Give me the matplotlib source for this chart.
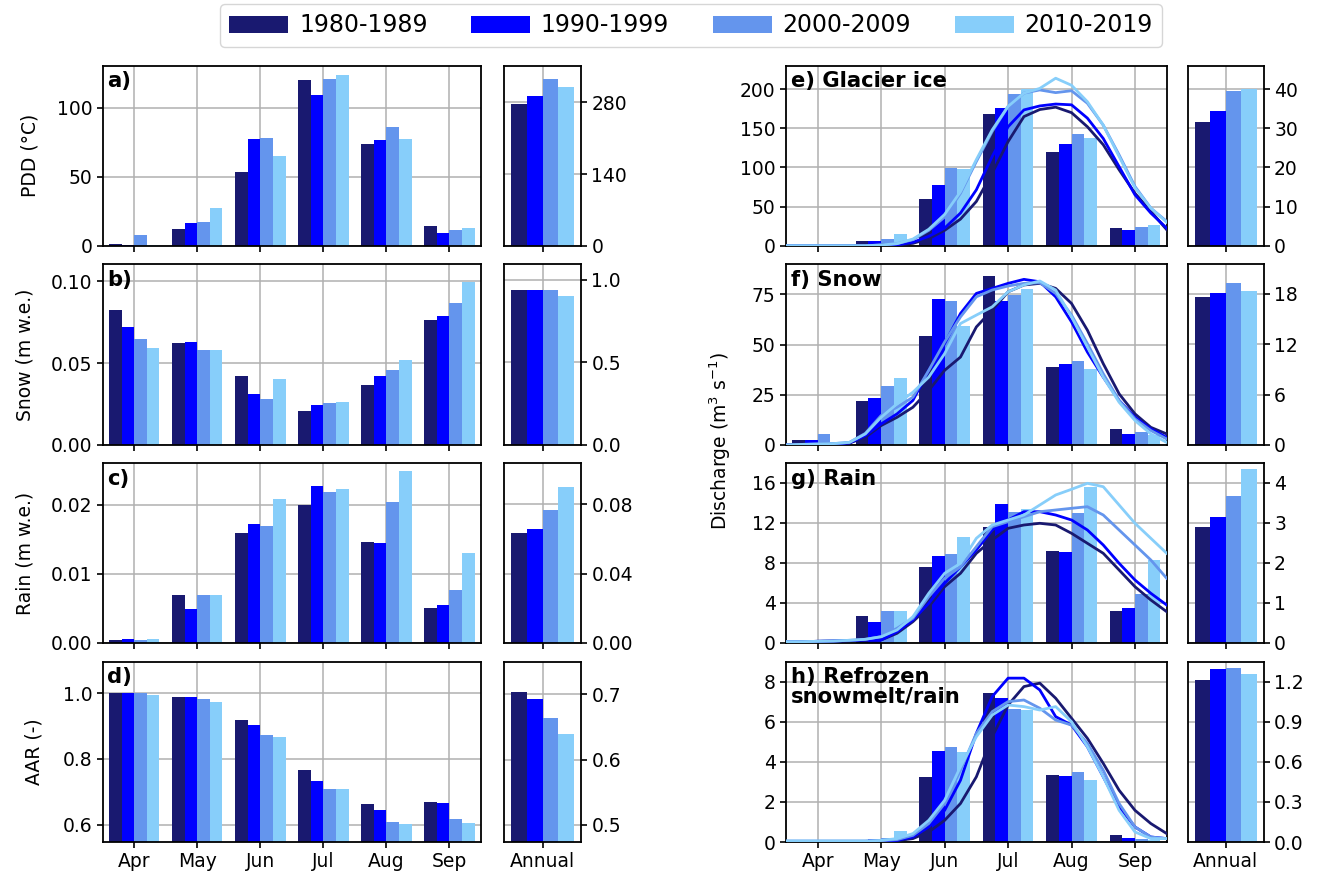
import numpy as np
import matplotlib
matplotlib.use("Agg")
import matplotlib.pyplot as plt
from matplotlib.patches import Patch

# ---------------- data ----------------
months = ["Apr", "May", "Jun", "Jul", "Aug", "Sep"]
decades = ["1980-1989", "1990-1999", "2000-2009", "2010-2019"]
colors = ["#191970", "#0000ff", "#6495ed", "#87cefa"]

# monthly bars, one list per decade
pdd = [[1.4, 12.1, 53.4, 120.0, 73.7, 14.2],
       [0.5, 16.4, 77.3, 109.2, 76.6, 9.2],
       [7.7, 17.1, 78.0, 120.8, 86.0, 11.4],
       [0.5, 27.3, 65.0, 123.6, 77.3, 12.8]]
snow = [[0.0823, 0.0622, 0.0421, 0.0207, 0.0366, 0.0762],
        [0.0720, 0.0628, 0.0311, 0.0244, 0.0421, 0.0787],
        [0.0646, 0.0579, 0.0281, 0.0256, 0.0457, 0.0866],
        [0.0592, 0.0579, 0.0403, 0.0262, 0.0518, 0.0994]]
rain = [[0.00043, 0.00696, 0.01594, 0.0200, 0.01464, 0.00507],
        [0.00058, 0.00493, 0.01725, 0.02275, 0.01449, 0.00551],
        [0.00043, 0.00696, 0.01696, 0.02188, 0.02043, 0.00768],
        [0.00058, 0.00696, 0.02087, 0.02232, 0.02493, 0.01304]]
aar = [[1.000, 0.988, 0.9175, 0.765, 0.664, 0.670],
       [1.000, 0.988, 0.902, 0.734, 0.643, 0.667],
       [1.000, 0.982, 0.872, 0.710, 0.609, 0.618],
       [0.996, 0.9725, 0.866, 0.707, 0.603, 0.606]]

q_ice = [[0.3, 6.4, 60.0, 168.4, 119.9, 23.0],
         [0.3, 6.4, 77.8, 176.0, 130.1, 20.4],
         [0.3, 8.9, 99.5, 193.9, 142.9, 24.2],
         [0.3, 15.3, 98.2, 199.8, 137.8, 26.8]]
q_snow = [[2.7, 21.7, 54.2, 84.2, 38.7, 8.2],
          [2.7, 23.2, 72.7, 71.7, 40.2, 5.7],
          [5.7, 29.2, 71.7, 74.7, 41.7, 6.7],
          [1.0, 33.2, 59.2, 77.7, 37.7, 5.0]]
q_rain = [[0.1, 2.7, 7.6, 11.6, 9.2, 3.2],
          [0.27, 2.1, 8.7, 13.9, 9.1, 3.5],
          [0.13, 3.2, 8.9, 13.1, 13.0, 4.9],
          [0.13, 3.2, 10.6, 13.4, 15.6, 8.3]]
q_refr = [[0.05, 0.12, 3.23, 7.43, 3.33, 0.33],
          [0.05, 0.17, 4.53, 7.18, 3.28, 0.18],
          [0.05, 0.22, 4.73, 6.63, 3.48, 0.13],
          [0.05, 0.53, 4.48, 6.58, 3.08, 0.08]]

# annual bars
ann_pdd = [277.3, 293.0, 325.5, 310.5]
ann_snow = [0.939, 0.939, 0.939, 0.901]
ann_rain = [0.0635, 0.0658, 0.0767, 0.0900]
ann_aar = [0.703, 0.6924, 0.6635, 0.639]
ann_ice = [31.6, 34.4, 39.5, 40.0]
ann_qsnow = [17.57, 18.05, 19.25, 18.29]
ann_qrain = [2.91, 3.16, 3.68, 4.36]
ann_refr = [1.2125, 1.295, 1.3025, 1.2575]

# smoothed daily discharge curves, read every quarter month (Apr 1 .. Sep 30)
line_x = np.arange(-0.5, 5.51, 0.25)
l_ice = [
    [0, 0, 0, 0, 0, 0, 0.9, 0.9, 3.0, 9.0, 19.6, 34.0, 56.5, 92.7, 133, 165, 174, 177, 170, 152, 129, 97, 67, 44, 20.4],
    [0, 0, 0, 0, 0, 0, 0.9, 1.3, 4.3, 12.0, 22.5, 41.7, 71.4, 114, 152, 173.5, 178.6, 181, 180, 163, 137, 101, 65, 41.7, 22.5],
    [0, 0, 0, 0, 0, 0, 0.9, 2.6, 7.7, 19.6, 36.6, 67, 107.6, 146, 178, 195, 199, 195.6, 198, 182, 154, 116, 75.7, 48, 31],
    [0, 0, 0, 0, 0, 0, 0.9, 2.6, 8.5, 21, 40, 69, 110, 148, 178, 195, 201, 214, 205, 184, 154, 114, 74, 48, 30]]
l_snow = [
    [0, 0.2, 0.3, 0.5, 1.0, 3.8, 9.7, 13.8, 18.8, 27.2, 37.2, 43.8, 58.8, 67.2, 76.3, 79.7, 80.5, 78, 70.5, 57.2, 40.5, 25.5, 15.5, 8.8, 5.5],
    [0, 0.2, 0.3, 0.5, 1.0, 4.7, 10.5, 15.5, 22.2, 37.2, 50.5, 65.5, 75.5, 78, 80.5, 82.5, 81.3, 73.8, 61.3, 46.3, 33.8, 22.2, 13.8, 8.0, 3.8],
    [0, 0.3, 0.5, 0.7, 1.3, 5.8, 14.7, 18.8, 23.8, 37.2, 51.3, 63.8, 73.8, 77.2, 79.2, 80.5, 80.8, 75.5, 64.7, 50.5, 35.5, 22.2, 13.0, 7.2, 3.0],
    [0, 0.3, 0.5, 0.7, 1.3, 5.5, 13.8, 20.5, 26.3, 33.8, 45.5, 60.5, 64.7, 68.8, 76.3, 79.7, 81.7, 77.2, 63.8, 48.8, 33.8, 21.3, 12.2, 5.5, 1.3]]
l_rain = [
    [0.13, 0.13, 0.17, 0.2, 0.23, 0.3, 0.3, 0.97, 2.13, 3.63, 5.63, 6.97, 8.97, 10.3, 11.47, 11.8, 11.97, 11.8, 10.97, 9.97, 8.97, 7.3, 5.63, 4.3, 3.13],
    [0.13, 0.13, 0.17, 0.2, 0.23, 0.3, 0.3, 1.13, 2.3, 3.97, 5.97, 7.63, 9.3, 11.3, 12.3, 13.13, 13.13, 12.8, 12.3, 11.3, 9.8, 7.97, 6.3, 4.97, 3.8],
    [0.13, 0.13, 0.17, 0.2, 0.27, 0.37, 0.63, 1.47, 2.47, 4.63, 6.47, 7.63, 9.63, 11.63, 12.13, 12.63, 13.13, 13.3, 13.47, 13.63, 12.8, 11.3, 9.8, 8.3, 6.47],
    [0.13, 0.13, 0.17, 0.2, 0.27, 0.37, 0.63, 1.3, 2.63, 4.97, 6.97, 7.97, 10.47, 11.8, 12.3, 12.8, 13.8, 14.8, 15.37, 15.97, 15.63, 13.8, 11.97, 10.47, 8.97]]
l_refr = [
    [0.03, 0.03, 0.03, 0.03, 0.03, 0.03, 0.05, 0.07, 0.17, 0.5, 1.08, 1.92, 3.25, 5.25, 6.83, 7.75, 7.92, 7.17, 6.17, 5.17, 3.92, 2.58, 1.58, 0.92, 0.42],
    [0.03, 0.03, 0.03, 0.03, 0.03, 0.03, 0.05, 0.08, 0.25, 0.75, 1.58, 3.08, 5.42, 7.25, 8.17, 8.17, 7.58, 6.25, 5.83, 4.75, 3.25, 1.75, 0.75, 0.25, 0.17],
    [0.05, 0.05, 0.05, 0.05, 0.05, 0.05, 0.07, 0.12, 0.33, 0.92, 1.92, 3.58, 5.42, 6.5, 7.0, 7.08, 6.67, 6.08, 5.83, 4.92, 3.58, 1.92, 0.75, 0.25, 0.17],
    [0.05, 0.05, 0.05, 0.05, 0.05, 0.05, 0.08, 0.17, 0.42, 1.08, 2.08, 3.75, 5.25, 6.33, 6.83, 6.75, 6.58, 6.75, 6.0, 4.75, 3.25, 1.58, 0.5, 0.17, 0.17]]

# ---------------- figure ----------------
FS = 13.5
LFS = 15.2
plt.rcParams["font.family"] = ["DejaVu Sans"]
plt.rcParams["font.size"] = FS
fig = plt.figure(figsize=(13.2, 8.82), dpi=100)

W, H = 1320.0, 882.0
cols = {"lm": (102.7, 481.0), "la": (504.3, 581.0), "rm": (786.0, 1166.7), "ra": (1187.7, 1263.7)}
rows = [(65.7, 245.7), (264.3, 445.0), (463.3, 643.0), (661.5, 842.0)]


def make_ax(col, r):
    x0, x1 = cols[col]
    y0, y1 = rows[r]
    return fig.add_axes([x0 / W, 1 - y1 / H, (x1 - x0) / W, (y1 - y0) / H])


def style(ax):
    ax.set_axisbelow(True)
    ax.grid(True, color="#b0b0b0", linewidth=1.1)
    for s in ax.spines.values():
        s.set_linewidth(1.3)
    ax.tick_params(width=1.2, length=4, labelsize=FS)


offsets = [-0.3, -0.1, 0.1, 0.3]
xm = np.arange(len(months))


def monthly(ax, data, ylim, yticks, fmt, label, ylabel=None, bottom=False, lines=None, pad=13):
    style(ax)
    for i in range(4):
        ax.bar(xm + offsets[i], data[i], width=0.2, color=colors[i], zorder=2)
    if lines is not None:
        for i in range(4):
            ax.plot(line_x, lines[i], color=colors[i], linewidth=2.0, zorder=3)
    ax.set_xlim(-0.5, 5.5)
    ax.set_ylim(*ylim)
    ax.set_xticks(xm)
    ax.set_xticklabels(months if bottom else [])
    ax.set_yticks(yticks)
    ax.set_yticklabels([fmt.format(v) for v in yticks])
    if ylabel:
        ax.set_ylabel(ylabel, fontsize=FS, labelpad=pad)
    ax.text(0.012, 0.97, label, transform=ax.transAxes, ha="left", va="top",
            fontweight="bold", fontsize=LFS, linespacing=1.0, zorder=5)


def annual(ax, vals, ylim, yticks, fmt, bottom=False):
    style(ax)
    for i in range(4):
        ax.bar(offsets[i], vals[i], width=0.2, color=colors[i], zorder=2)
    ax.set_xlim(-0.49, 0.49)
    ax.set_ylim(*ylim)
    ax.set_xticks([0])
    ax.set_xticklabels(["Annual"] if bottom else [])
    ax.yaxis.tick_right()
    ax.set_yticks(yticks)
    ax.set_yticklabels([fmt.format(v) for v in yticks])


# left column
monthly(make_ax("lm", 0), pdd, (0, 130.4), [0, 50, 100], "{:.0f}", "a)", "PDD (°C)", pad=12)
monthly(make_ax("lm", 1), snow, (0, 0.1102), [0, 0.05, 0.10], "{:.2f}", "b)", "Snow (m w.e.)", pad=12)
monthly(make_ax("lm", 2), rain, (0, 0.02604), [0, 0.01, 0.02], "{:.2f}", "c)", "Rain (m w.e.)", pad=12)
monthly(make_ax("lm", 3), aar, (0.547, 1.097), [0.6, 0.8, 1.0], "{:.1f}", "d)", "AAR (-)", bottom=True, pad=14)

annual(make_ax("la", 0), ann_pdd, (0, 351.5), [0, 140, 280], "{:.0f}")
annual(make_ax("la", 1), ann_snow, (0, 1.095), [0, 0.5, 1.0], "{:.1f}")
annual(make_ax("la", 2), ann_rain, (0, 0.1036), [0, 0.04, 0.08], "{:.2f}")
annual(make_ax("la", 3), ann_aar, (0.474, 0.75), [0.5, 0.6, 0.7], "{:.1f}", bottom=True)

# right column
monthly(make_ax("rm", 0), q_ice, (0, 230), [0, 50, 100, 150, 200], "{:.0f}", "e) Glacier ice", lines=l_ice)
monthly(make_ax("rm", 1), q_snow, (0, 90), [0, 25, 50, 75], "{:.0f}", "f) Snow", lines=l_snow)
monthly(make_ax("rm", 2), q_rain, (0, 17.97), [0, 4, 8, 12, 16], "{:.0f}", "g) Rain", lines=l_rain)
monthly(make_ax("rm", 3), q_refr, (0, 9.0), [0, 2, 4, 6, 8], "{:.0f}", "h) Refrozen\nsnowmelt/rain",
        bottom=True, lines=l_refr)

annual(make_ax("ra", 0), ann_ice, (0, 46.0), [0, 10, 20, 30, 40], "{:.0f}")
annual(make_ax("ra", 1), ann_qsnow, (0, 21.5), [0, 6, 12, 18], "{:.0f}")
annual(make_ax("ra", 2), ann_qrain, (0, 4.49), [0, 1, 2, 3, 4], "{:.0f}")
annual(make_ax("ra", 3), ann_refr, (0, 1.35), [0, 0.3, 0.6, 0.9, 1.2], "{:.1f}", bottom=True)

fig.text(720 / W, 0.5, "Discharge (m$^3$ s$^{-1}$)", rotation=90, ha="center", va="center", fontsize=FS)

handles = [Patch(facecolor=c) for c in colors]
fig.legend(handles, decades, loc="center", bbox_to_anchor=(691 / W, 1 - 25.5 / H), ncol=4,
           fontsize=17, handlelength=2.5, handleheight=0.75, handletextpad=0.45,
           columnspacing=1.85, frameon=True, fancybox=True, edgecolor="#cccccc")

fig.savefig("out.png", dpi=100)
